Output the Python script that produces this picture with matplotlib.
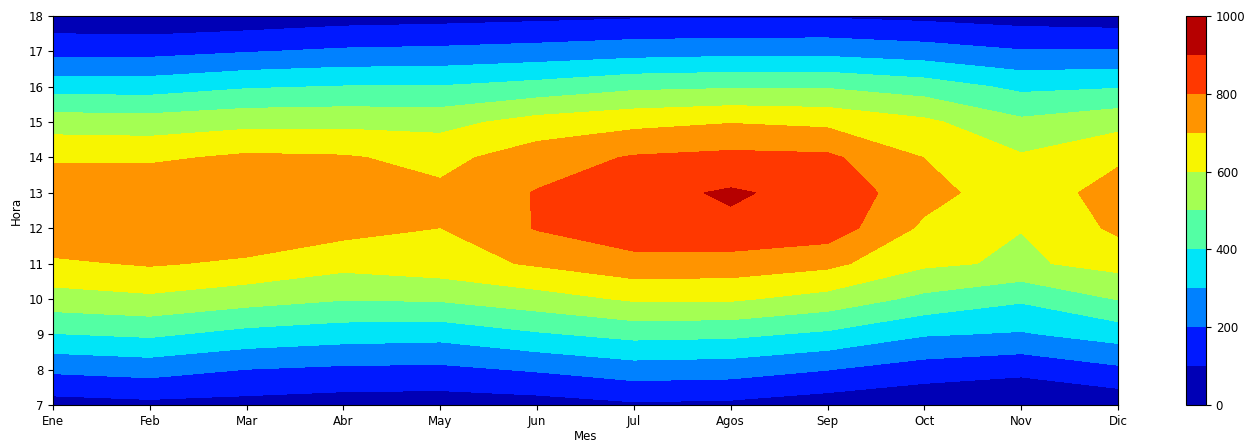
import numpy as np
import matplotlib
matplotlib.use("Agg")
import matplotlib.pyplot as plt

# Mean irradiance per hour (7..18) for each month
meses = ["Ene", "Feb", "Mar", "Abr", "May", "Jun", "Jul", "Agos", "Sep", "Oct", "Nov", "Dic"]
horas = [7, 8, 9, 10, 11, 12, 13, 14, 15, 16, 17, 18]

ene = [59, 218, 396, 558, 682, 785, 770, 685, 552, 357, 168, 32]
feb = [74, 238, 416, 580, 710, 790, 785, 682, 545, 354, 169, 20]
mar = [65, 198, 368, 540, 683, 775, 785, 717, 570, 390, 194, 32]
abr = [51, 181, 344, 506, 631, 735, 770, 709, 573, 404, 215, 54]
may = [47, 177, 334, 513, 660, 699, 720, 671, 567, 405, 223, 63]
jun = [57, 210, 388, 559, 712, 806, 806, 751, 638, 436, 238, 74]
jul = [85, 252, 429, 613, 765, 865, 868, 809, 671, 479, 257, 86]
ago = [77, 244, 421, 613, 758, 880, 912, 826, 695, 490, 268, 85]
sep = [45, 202, 381, 564, 725, 857, 865, 819, 677, 491, 268, 89]
octu = [15, 154, 308, 475, 618, 680, 740, 698, 620, 451, 244, 74]
nov = [0, 126, 290, 415, 585, 602, 632, 612, 520, 377, 207, 55]
dic = [29, 180, 342, 505, 633, 720, 747, 682, 567, 392, 207, 43]

columnas = [ene, feb, mar, abr, may, jun, jul, ago, sep, octu, nov, dic]
Z = np.column_stack(columnas)          # rows = hours, cols = months
x = np.arange(len(meses))
y = np.array(horas)

fig = plt.figure(figsize=(12.52, 4.43), dpi=100)
ax = fig.add_axes([53 / 1252, 38 / 443, 1065 / 1252, 389 / 443])
cax = fig.add_axes([1186 / 1252, 38 / 443, 20 / 1252, 389 / 443])

levels = np.arange(0, 1001, 100)
cs = ax.contourf(x, y, Z, levels=levels, cmap="jet")

ax.set_xticks(x)
ax.set_xticklabels(meses, fontsize=8.5)
ax.set_yticks(np.arange(7, 19))
ax.tick_params(axis="y", labelsize=8.5)
ax.set_xlim(0, 11)
ax.set_ylim(7, 18)
ax.set_xlabel("Mes", fontsize=8.5, labelpad=2)
ax.set_ylabel("Hora", fontsize=8.5, labelpad=4)

cb = fig.colorbar(cs, cax=cax, ticks=np.arange(0, 1001, 200))
cb.ax.tick_params(labelsize=8.5)

fig.savefig("out.png", dpi=100)
